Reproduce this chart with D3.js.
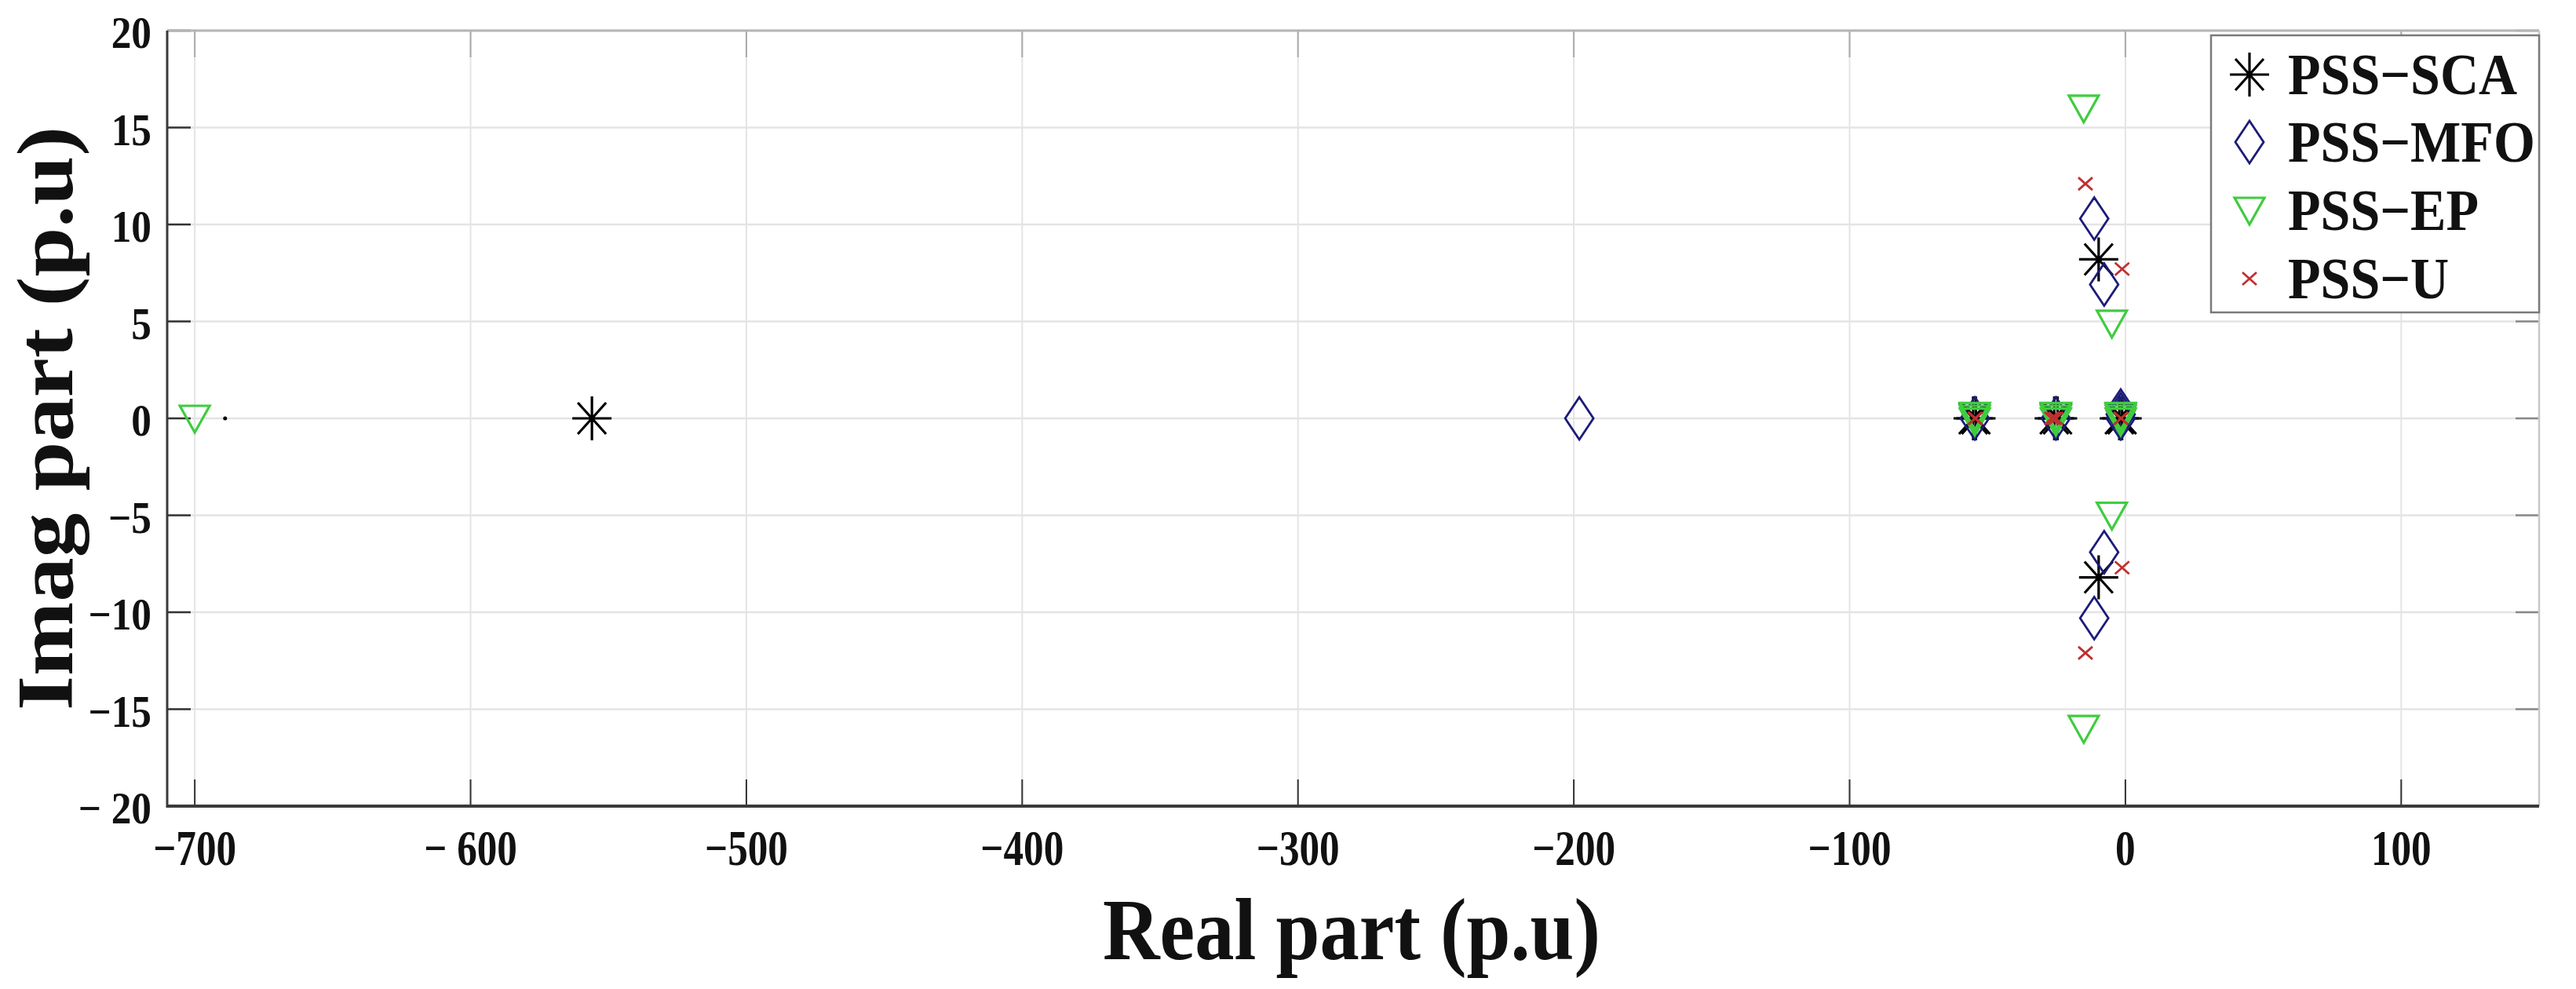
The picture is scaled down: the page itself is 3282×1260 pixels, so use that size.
<!DOCTYPE html>
<html>
<head>
<meta charset="utf-8">
<script src="https://cdn.jsdelivr.net/npm/d3@7/dist/d3.min.js"></script>
<style>
html,body{margin:0;padding:0;background:#fff;}
svg{display:block;}
text{font-family:"Liberation Serif","Times New Roman",serif;font-weight:bold;fill:#111;}
</style>
</head>
<body>
<svg id="chart" width="3282" height="1260"></svg>
<script>
// ---------------- DATA ----------------
const xTicks = [-700, -600, -500, -400, -300, -200, -100, 0, 100];
const xTickLabels = ["\u2212700", "\u2212 600", "\u2212500", "\u2212400", "\u2212300", "\u2212200", "\u2212100", "0", "100"];
const yTicks = [20, 15, 10, 5, 0, -5, -10, -15, -20];
const yTickLabels = ["20", "15", "10", "5", "0", "\u22125", "\u221210", "\u221215", "\u2212 20"];

const seriesNames = ["PSS\u2212SCA", "PSS\u2212MFO", "PSS\u2212EP", "PSS\u2212U"];

// PSS-SCA eigenvalues (real, imag)
const scaReal = [-556, -55.2, -54.2, -25.8, -24.6, -9.7, -9.7, -2.2, -1.2];
const scaImag = [0, 0, 0, 0, 0, 8.2, -8.2, 0, 0];
// PSS-MFO
const mfoReal = [-198, -54.6, -25.2, -11.3, -7.7, -7.7, -11.3, -1.7, -1.7, -1.7];
const mfoImag = [0, 0, 0, 10.3, 6.9, -6.9, -10.3, 0, 0.2, 0.4];
// PSS-EP
const epReal = [-700, -54.6, -54.6, -54.6, -25.2, -25.2, -25.2, -15.1, -4.9, -4.9, -15.1, -1.7, -1.7, -1.7];
const epImag = [0, 0, 0.15, -0.15, 0, 0.15, -0.15, 16, 4.9, -5, -16, 0, 0.15, -0.15];
// PSS-U
const uReal = [-54.6, -54.3, -26.8, -26.0, -25.2, -14.5, -1.2, -1.2, -14.5, -1.7, -1.5];
const uImag = [0, 0, 0, 0, 0, 12.1, 7.7, -7.7, -12.1, 0, 0];
// isolated small dot
const dotReal = [-689];
const dotImag = [0];

// ---------------- LAYOUT ----------------
const svg = d3.select("#chart");
const pL = 213, pR = 3235, pT = 39, pB = 1027;
const x = d3.scaleLinear().domain([-710, 150]).range([pL, pR]);
const y = d3.scaleLinear().domain([-20, 20]).range([pB, pT]);

const colors = {sca: "#000000", mfo: "#1c1c78", ep: "#3fcc3f", u: "#bf3030"};

svg.append("rect").attr("x", 0).attr("y", 0).attr("width", 3282).attr("height", 1260).attr("fill", "#fff");

// gridlines
const grid = svg.append("g");
grid.selectAll("line.vx").data(xTicks).enter().append("line")
  .attr("x1", d => x(d)).attr("x2", d => x(d)).attr("y1", pT).attr("y2", pB)
  .attr("stroke", "#e4e4e4").attr("stroke-width", 2);
grid.selectAll("line.hy").data(yTicks).enter().append("line")
  .attr("x1", pL).attr("x2", pR).attr("y1", d => y(d)).attr("y2", d => y(d))
  .attr("stroke", "#e4e4e4").attr("stroke-width", 2.5);

// ticks (inward)
const tickLen = 34;
const ticks = svg.append("g");
ticks.selectAll("line.bt").data(xTicks).enter().append("line")
  .attr("x1", d => x(d)).attr("x2", d => x(d)).attr("y1", pB).attr("y2", pB - tickLen)
  .attr("stroke", "#333").attr("stroke-width", 2);
ticks.selectAll("line.tt").data(xTicks).enter().append("line")
  .attr("x1", d => x(d)).attr("x2", d => x(d)).attr("y1", pT).attr("y2", pT + tickLen)
  .attr("stroke", "#aaa").attr("stroke-width", 2);
ticks.selectAll("line.lt").data(yTicks).enter().append("line")
  .attr("x1", pL).attr("x2", pL + 30).attr("y1", d => y(d)).attr("y2", d => y(d))
  .attr("stroke", "#333").attr("stroke-width", 2.5);
ticks.selectAll("line.rt").data(yTicks).enter().append("line")
  .attr("x1", pR).attr("x2", pR - 30).attr("y1", d => y(d)).attr("y2", d => y(d))
  .attr("stroke", "#888").attr("stroke-width", 2.5);

// axes box
svg.append("line").attr("x1", pL).attr("x2", pR).attr("y1", pT).attr("y2", pT)
  .attr("stroke", "#b5b5b5").attr("stroke-width", 3);
svg.append("line").attr("x1", pR).attr("x2", pR).attr("y1", pT).attr("y2", pB)
  .attr("stroke", "#c8c8c8").attr("stroke-width", 2.5);
svg.append("line").attr("x1", pL).attr("x2", pL).attr("y1", pT).attr("y2", pB + 2)
  .attr("stroke", "#3a3a3a").attr("stroke-width", 3);
svg.append("line").attr("x1", pL - 1).attr("x2", pR).attr("y1", pB).attr("y2", pB)
  .attr("stroke", "#3a3a3a").attr("stroke-width", 4);

// tick labels
svg.append("g").selectAll("text").data(xTicks).enter().append("text")
  .attr("transform", d => `translate(${x(d)},1102) scale(0.8,1)`)
  .attr("text-anchor", "middle").style("font-size", "64px")
  .text((d, i) => xTickLabels[i]);
svg.append("g").selectAll("text").data(yTicks).enter().append("text")
  .attr("transform", d => `translate(193,${y(d) + 22}) scale(0.9,1)`)
  .attr("text-anchor", "end").style("font-size", "57px")
  .text((d, i) => yTickLabels[i]);

// axis titles
svg.append("text").attr("transform", "translate(1722,1222) scale(0.89,1)")
  .attr("text-anchor", "middle").style("font-size", "113px").text("Real part (p.u)");
svg.append("text").attr("transform", "translate(92,533) scale(0.89,1) rotate(-90)")
  .attr("text-anchor", "middle").style("font-size", "113px").text("Imag part (p.u)");

// ---------------- MARKERS ----------------
function asteriskPath(cx, cy) {
  const p = d3.path();
  p.moveTo(cx - 25, cy); p.lineTo(cx + 25, cy);
  p.moveTo(cx, cy - 28); p.lineTo(cx, cy + 28);
  p.moveTo(cx - 18, cy - 20); p.lineTo(cx + 18, cy + 20);
  p.moveTo(cx - 18, cy + 20); p.lineTo(cx + 18, cy - 20);
  return p.toString();
}
function diamondPath(cx, cy) {
  const p = d3.path();
  p.moveTo(cx, cy - 27); p.lineTo(cx + 18, cy); p.lineTo(cx, cy + 27); p.lineTo(cx - 18, cy); p.closePath();
  return p.toString();
}
function triPath(cx, cy) {
  const p = d3.path();
  p.moveTo(cx - 19, cy - 16); p.lineTo(cx + 19, cy - 16); p.lineTo(cx, cy + 18); p.closePath();
  return p.toString();
}
function xPath(cx, cy) {
  const p = d3.path();
  p.moveTo(cx - 9, cy - 8); p.lineTo(cx + 9, cy + 8);
  p.moveTo(cx - 9, cy + 8); p.lineTo(cx + 9, cy - 8);
  return p.toString();
}

const plot = svg.append("g");
function drawSeries(re, im, pathFn, color, sw) {
  plot.append("g").selectAll("path").data(re.map((r, i) => [r, im[i]])).enter().append("path")
    .attr("d", d => pathFn(x(d[0]), y(d[1])))
    .attr("fill", "none").attr("stroke", color).attr("stroke-width", sw)
    .attr("stroke-linejoin", "miter");
}
drawSeries(scaReal, scaImag, asteriskPath, colors.sca, 3.2);
drawSeries(mfoReal, mfoImag, diamondPath, colors.mfo, 2.8);
drawSeries(epReal, epImag, triPath, colors.ep, 3.2);
drawSeries(uReal, uImag, xPath, colors.u, 2.8);
plot.append("g").selectAll("circle").data(dotReal.map((r, i) => [r, dotImag[i]])).enter().append("circle")
  .attr("cx", d => x(d[0])).attr("cy", d => y(d[1])).attr("r", 2.5).attr("fill", "#000");

// ---------------- LEGEND ----------------
const lg = svg.append("g");
lg.append("rect").attr("x", 2817).attr("y", 45).attr("width", 418).attr("height", 353)
  .attr("fill", "#fff").attr("stroke", "#7a7a7a").attr("stroke-width", 2.5);
const legendFns = [asteriskPath, diamondPath, triPath, xPath];
const legendColors = [colors.sca, colors.mfo, colors.ep, colors.u];
const legendWidths = [3.2, 2.8, 3.2, 2.8];
const rowY = [95, 181, 268, 355];
seriesNames.forEach((name, i) => {
  lg.append("path").attr("d", legendFns[i](2866, rowY[i]))
    .attr("fill", "none").attr("stroke", legendColors[i]).attr("stroke-width", legendWidths[i]);
  lg.append("text").attr("transform", `translate(2915,${rowY[i] + 25}) scale(0.92,1)`)
    .style("font-size", "74px").text(name);
});
</script>
</body>
</html>
